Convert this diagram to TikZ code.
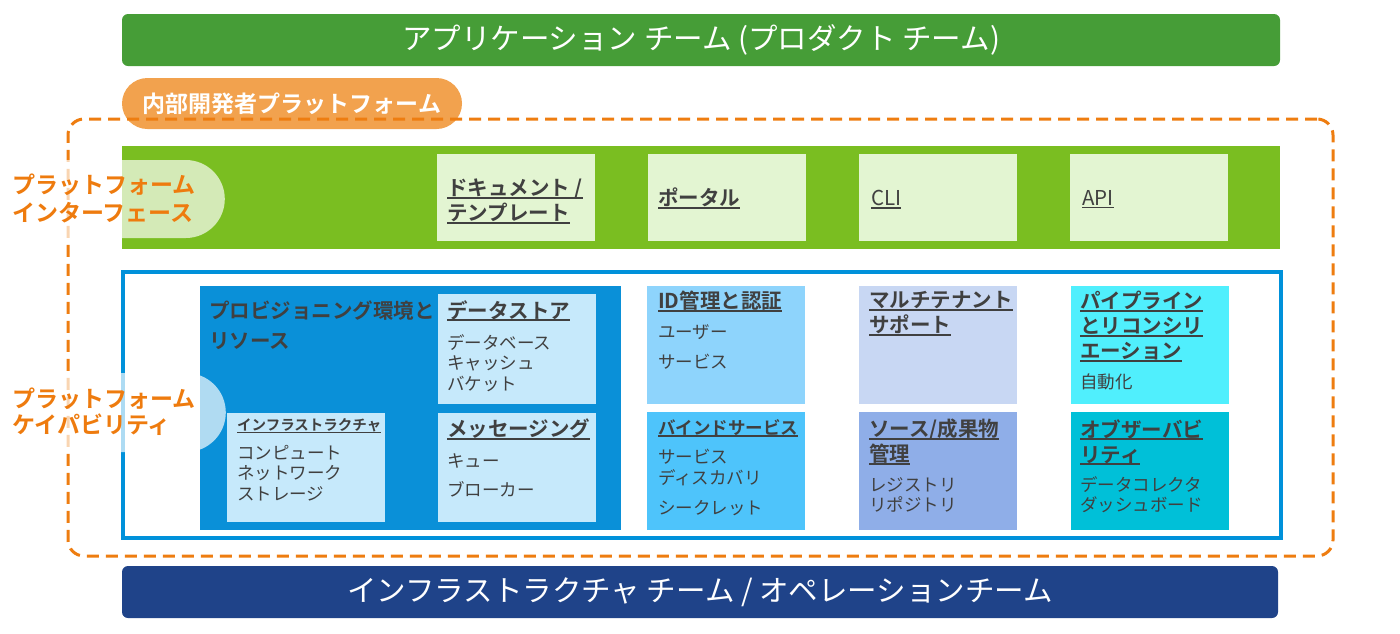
\documentclass[tikz,border=0pt]{standalone}
\usepackage{fontspec}
\setmainfont{Noto Sans CJK JP}[BoldFont={Noto Sans CJK JP Bold}]
\usepackage{tikz}
\usetikzlibrary{positioning}
\definecolor{appgreen}{HTML}{469D37}
\definecolor{pillorange}{HTML}{F2A24E}
\definecolor{dashorange}{HTML}{EE7D10}
\definecolor{sideorange}{HTML}{EE7B0E}
\definecolor{ifgreen}{HTML}{7ABE21}
\definecolor{iflight}{HTML}{E3F5D2}
\definecolor{capblue}{HTML}{0091DA}
\definecolor{provblue}{HTML}{0A90D8}
\definecolor{sublight}{HTML}{C6E9FB}
\definecolor{idblue}{HTML}{8ED4FC}
\definecolor{bindblue}{HTML}{4EC4FB}
\definecolor{multiblue}{HTML}{C8D7F3}
\definecolor{sourceblue}{HTML}{8FAEE8}
\definecolor{pipecyan}{HTML}{50EFFD}
\definecolor{obscyan}{HTML}{00C0D8}
\definecolor{opsnavy}{HTML}{1F4389}
\definecolor{textgray}{HTML}{404040}
\newcommand{\ulbox}[1]{\setbox0=\hbox{#1}\leavevmode\rlap{\rule[-0.15em]{\wd0}{0.08em}}\box0}
\tikzstyle{bar}=[rounded corners=6pt, minimum width=1158pt, minimum height=52pt, inner sep=0pt, text=white, font=\fontsize{29.5}{34}\selectfont]
\tikzstyle{pill}=[rounded corners=25.5pt, fill=pillorange, minimum width=340pt, minimum height=51pt, inner sep=0pt, text=white, font=\bfseries\fontsize{23}{28}\selectfont]
\tikzstyle{dashframe}=[draw=dashorange, line width=3pt, dash pattern=on 12pt off 7pt, rounded corners=16pt, minimum width=1265pt, minimum height=437pt]
\tikzstyle{band}=[anchor=north west, inner sep=0pt, outer sep=0pt]
\tikzstyle{ifbox}=[band, fill=iflight, minimum width=158pt, minimum height=87pt]
\tikzstyle{capbox}=[band, minimum width=158pt, minimum height=118pt]
\tikzstyle{subbox}=[band, fill=sublight, minimum width=158pt, minimum height=110pt]
\tikzstyle{halfpill}=[fill=white, fill opacity=0.68, anchor=east, minimum width=200pt, inner sep=0pt]
\tikzstyle{title}=[inner sep=0pt, align=left, text=textgray, font=\bfseries\fontsize{20.5}{25}\selectfont]
\tikzstyle{items}=[inner sep=0pt, align=left, text=textgray, font=\fontsize{17.5}{20.5}\selectfont]
\tikzstyle{side}=[anchor=north west, inner sep=0pt, align=left, text=sideorange, font=\bfseries\fontsize{23}{28}\selectfont]

\begin{document}
\begin{tikzpicture}[x=1pt, y=-1pt]
	\useasboundingbox (0, 0) rectangle (1400, 633);
	\begin{scope}
		\node (app) at (701, 40)[bar, fill=appgreen] {アプリケーション チーム (プロダクト チーム)};
		\node (idp) at (292, 103.5)[pill] {内部開発者プラットフォーム};
		\node (idpframe) at (700.5, 337.5)[dashframe] {};
	\end{scope}
	\begin{scope}
		\node (ifband) at (122, 146)[band, fill=ifgreen, minimum width=1158pt, minimum height=103pt] {};
		\node (doc) at (437, 154)[ifbox] {};
		\node (portal) at (648, 154)[ifbox] {};
		\node (cli) at (859, 154)[ifbox] {};
		\node (api) at (1070, 154)[ifbox] {};
		\node (doct) [title, below right=25pt and 10pt of doc.north west] {\ulbox{ドキュメント /}\\\ulbox{テンプレート}};
		\node (portalt) [title, below right=34pt and 10pt of portal.north west] {\ulbox{ポータル}};
		\node (clit) [title, font=\fontsize{20.5}{25}\selectfont, below right=36pt and 12pt of cli.north west] {\ulbox{CLI}};
		\node (apit) [title, font=\fontsize{20.5}{25}\selectfont, below right=36pt and 12pt of api.north west] {\ulbox{API}};
	\end{scope}
	\begin{scope}
		\node (capframe) at (702, 405)[draw=capblue, line width=4.5pt, fill=white, minimum width=1158pt, minimum height=266pt, inner sep=0pt] {};
		\node (prov) at (200, 286)[band, fill=provblue, minimum width=421pt, minimum height=244pt] {};
		\node (ds) at (438, 294)[subbox] {};
		\node (infra) at (227, 413)[subbox, minimum height=109pt] {};
		\node (msg) at (438, 413)[subbox, minimum height=109pt] {};
		\node (id) at (647, 286)[capbox, fill=idblue] {};
		\node (bind) at (647, 412)[capbox, fill=bindblue] {};
		\node (multi) at (859, 286)[capbox, fill=multiblue] {};
		\node (source) at (859, 412)[capbox, fill=sourceblue] {};
		\node (pipe) at (1071, 286)[capbox, fill=pipecyan] {};
		\node (obs) at (1071, 412)[capbox, fill=obscyan] {};
	\end{scope}
	\begin{scope}
		\node (provt) [title, below right=15pt and 9pt of prov.north west] {プロビジョニング環境と\\[5pt]リソース};
		\node (dst) [title, below right=6pt and 9pt of ds.north west] {\ulbox{データストア}};
		\node (dsi) [items, below right=40pt and 9pt of ds.north west] {データベース\\キャッシュ\\バケット};
		\node (infrat) [title, font=\bfseries\fontsize{14.5}{18}\selectfont, below right=5.5pt and 10pt of infra.north west] {\ulbox{インフラストラクチャ}};
		\node (infrai) [items, below right=32pt and 10pt of infra.north west] {コンピュート\\ネットワーク\\ストレージ};
		\node (msgt) [title, below right=6pt and 9pt of msg.north west] {\ulbox{メッセージング}};
		\node (msgi) [items, below right=40pt and 9pt of msg.north west] {キュー\\[8.5pt]ブローカー};
		\node (idt) [title, below right=5pt and 11pt of id.north west] {\ulbox{ID管理と認証}};
		\node (idi) [items, below right=38pt and 11pt of id.north west] {ユーザー\\[9.5pt]サービス};
		\node (bindt) [title, font=\bfseries\fontsize{17.5}{25}\selectfont, below right=7pt and 11pt of bind.north west] {\ulbox{バインドサービス}};
		\node (bindi) [items, below right=37pt and 11pt of bind.north west] {サービス\\ディスカバリ\\[9.5pt]シークレット};
		\node (multit) [title, below right=5pt and 10pt of multi.north west] {\ulbox{マルチテナント}\\\ulbox{サポート}};
		\node (sourcet) [title, below right=7pt and 10pt of source.north west] {\ulbox{ソース/成果物}\\\ulbox{管理}};
		\node (sourcei) [items, below right=65pt and 10pt of source.north west] {レジストリ\\リポジトリ};
		\node (pipet) [title, below right=5pt and 9pt of pipe.north west] {\ulbox{パイプライン}\\\ulbox{とリコンシリ}\\\ulbox{エーション}};
		\node (pipei) [items, below right=88pt and 9pt of pipe.north west] {自動化};
		\node (obst) [title, below right=7pt and 9pt of obs.north west] {\ulbox{オブザーバビ}\\\ulbox{リティ}};
		\node (obsi) [items, below right=64pt and 9pt of obs.north west] {データコレクタ\\ダッシュボード};
	\end{scope}
	\begin{scope}
		\node (ifpill) at (225, 199)[halfpill, minimum height=78pt, rounded corners=39pt] {};
		\node (cappill) at (226, 412.5)[halfpill, minimum height=79pt, rounded corners=39.5pt] {};
		\node (ifside) at (12, 174)[side] {プラットフォーム\\インターフェース};
		\node (capside) at (12, 388)[side, font=\bfseries\fontsize{23}{26}\selectfont] {プラットフォーム\\ケイパビリティ};
		\node (ops) at (700, 592)[bar, fill=opsnavy, minimum width=1156pt] {インフラストラクチャ チーム / オペレーションチーム};
	\end{scope}
\end{tikzpicture}
\end{document}
